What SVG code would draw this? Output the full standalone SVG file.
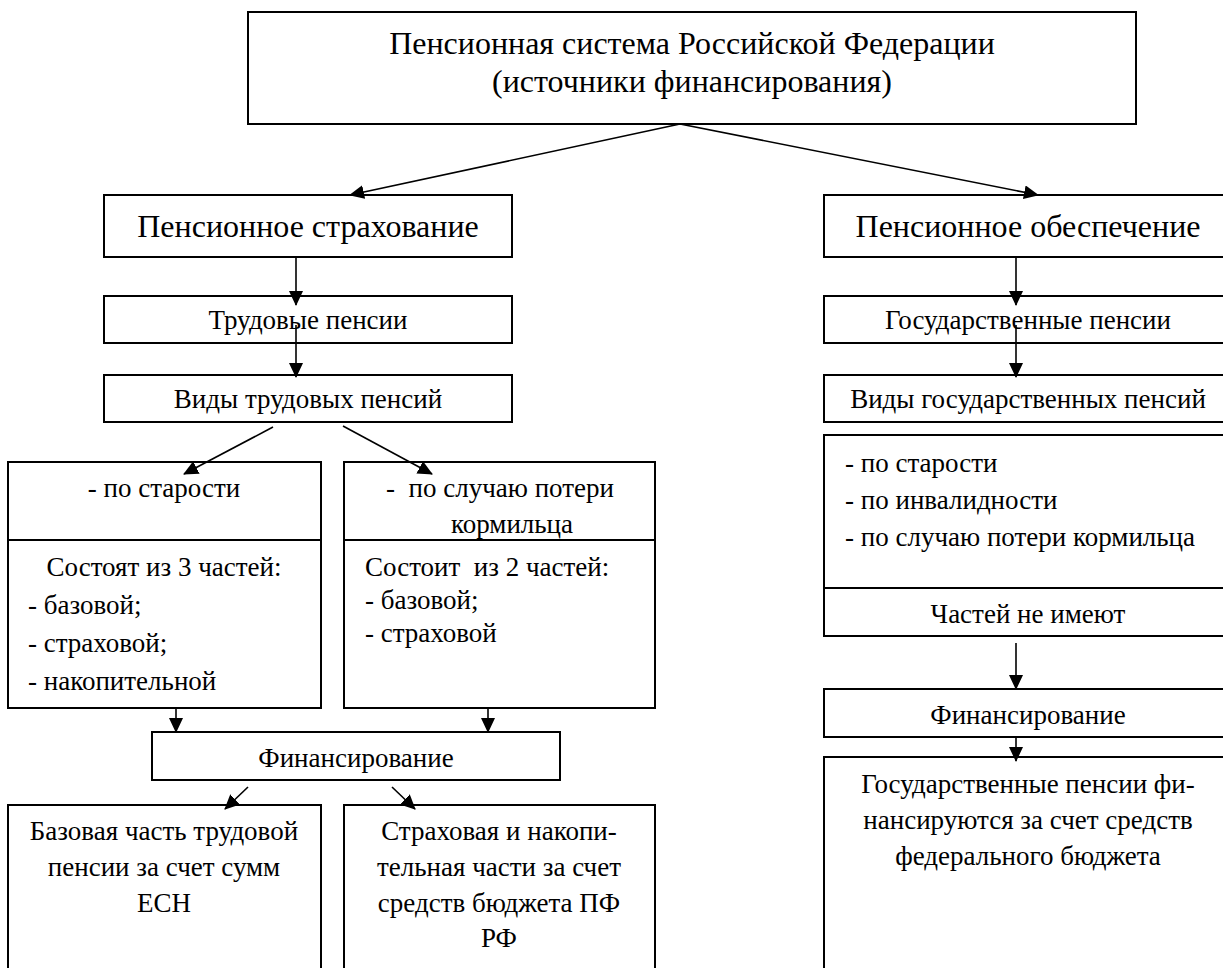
<svg xmlns="http://www.w3.org/2000/svg" width="1223" height="968" viewBox="0 0 1223 968" font-family="'Liberation Serif', 'Times New Roman', Tinos, 'DejaVu Serif', serif">
<style>
.box{fill:#fff;stroke:#000;stroke-width:2}
.dv{stroke:#000;stroke-width:2}
.l{font-size:32px;fill:#000}
.m{font-size:27px;fill:#000}
.c{text-anchor:middle}
#connectors line{stroke:#000;stroke-width:1.6;marker-end:url(#ah)}
</style>
<defs>
<marker id="ah" markerUnits="userSpaceOnUse" markerWidth="15" markerHeight="14" refX="14" refY="7" orient="auto" viewBox="0 0 15 14"><path d="M0,0 L15,7 L0,14 z" fill="#000"/></marker>
</defs>
<rect width="1223" height="968" fill="#fff"/>
<g id="n-root">
<rect class="box" x="248" y="12" width="888" height="112"/>
<text class="l c" x="692" y="54">Пенсионная система Российской Федерации</text>
<text class="l c" x="692" y="92">(источники финансирования)</text>
</g>
<g id="n-strakh">
<rect class="box" x="104" y="195" width="408" height="62"/>
<text class="l c" x="308" y="237">Пенсионное страхование</text>
</g>
<g id="n-obesp">
<rect class="box" x="824" y="195" width="408" height="62"/>
<text class="l c" x="1028" y="237">Пенсионное обеспечение</text>
</g>
<g id="n-trud">
<rect class="box" x="104" y="296" width="408" height="47"/>
<text class="m c" x="308" y="329">Трудовые пенсии</text>
</g>
<g id="n-gos">
<rect class="box" x="824" y="296" width="408" height="47"/>
<text class="m c" x="1028" y="329">Государственные пенсии</text>
</g>
<g id="n-vidy-trud">
<rect class="box" x="104" y="375" width="408" height="47"/>
<text class="m c" x="308" y="408">Виды трудовых пенсий</text>
</g>
<g id="n-vidy-gos">
<rect class="box" x="824" y="375" width="408" height="47"/>
<text class="m c" x="1028" y="408">Виды государственных пенсий</text>
</g>
<g id="n-starost">
<rect class="box" x="8" y="462" width="313" height="246"/>
<line class="dv" x1="8" y1="540" x2="321" y2="540"/>
<text class="m c" x="164" y="497">- по старости</text>
<text class="m c" x="164" y="576">Состоят из 3 частей:</text>
<text class="m" x="28" y="614">- базовой;</text>
<text class="m" x="28" y="652">- страховой;</text>
<text class="m" x="28" y="690">- накопительной</text>
</g>
<g id="n-kormil">
<rect class="box" x="344" y="462" width="311" height="246"/>
<line class="dv" x1="344" y1="540" x2="655" y2="540"/>
<text class="m c" x="500" y="497" xml:space="preserve">-  по случаю потери</text>
<text class="m c" x="512" y="533">кормильца</text>
<text class="m" x="365" y="576" xml:space="preserve">Состоит  из 2 частей:</text>
<text class="m" x="365" y="609">- базовой;</text>
<text class="m" x="365" y="642">- страховой</text>
</g>
<g id="n-gos-vidy-list">
<rect class="box" x="824" y="435" width="408" height="201"/>
<line class="dv" x1="824" y1="588" x2="1232" y2="588"/>
<text class="m" x="845" y="472">- по старости</text>
<text class="m" x="845" y="509">- по инвалидности</text>
<text class="m" x="845" y="546">- по случаю потери кормильца</text>
<text class="m c" x="1028" y="623">Частей не имеют</text>
</g>
<g id="n-fin-left">
<rect class="box" x="152" y="732" width="408" height="48"/>
<text class="m c" x="356" y="767">Финансирование</text>
</g>
<g id="n-fin-right">
<rect class="box" x="824" y="689" width="408" height="48"/>
<text class="m c" x="1028" y="724">Финансирование</text>
</g>
<g id="n-base">
<rect class="box" x="8" y="805" width="313" height="180"/>
<text class="m c" x="164" y="840">Базовая часть трудовой</text>
<text class="m c" x="164" y="876">пенсии за счет сумм</text>
<text class="m c" x="164" y="912">ЕСН</text>
</g>
<g id="n-strakh-nakop">
<rect class="box" x="344" y="805" width="311" height="180"/>
<text class="m c" x="499" y="840">Страховая и накопи-</text>
<text class="m c" x="499" y="876">тельная части за счет</text>
<text class="m c" x="499" y="912">средств бюджета ПФ</text>
<text class="m c" x="499" y="947">РФ</text>
</g>
<g id="n-fed">
<rect class="box" x="824" y="757" width="408" height="230"/>
<text class="m c" x="1028" y="793">Государственные пенсии фи-</text>
<text class="m c" x="1028" y="829">нансируются за счет средств</text>
<text class="m c" x="1028" y="865">федерального бюджета</text>
</g>
<g id="connectors">
<line x1="680" y1="124" x2="350" y2="195"/>
<line x1="680" y1="124" x2="1038" y2="195"/>
<line x1="296" y1="257" x2="296" y2="305"/>
<line x1="1016" y1="257" x2="1016" y2="305"/>
<line x1="296" y1="325" x2="296" y2="377"/>
<line x1="1016" y1="325" x2="1016" y2="377"/>
<line x1="273" y1="427" x2="184" y2="474"/>
<line x1="343" y1="426" x2="432" y2="474"/>
<line x1="1016" y1="643" x2="1016" y2="689"/>
<line x1="176" y1="708" x2="176" y2="732"/>
<line x1="488" y1="708" x2="488" y2="732"/>
<line x1="1016" y1="737" x2="1016" y2="761"/>
<line x1="248" y1="787" x2="225" y2="809"/>
<line x1="392" y1="787" x2="415" y2="809"/>
</g>
</svg>
